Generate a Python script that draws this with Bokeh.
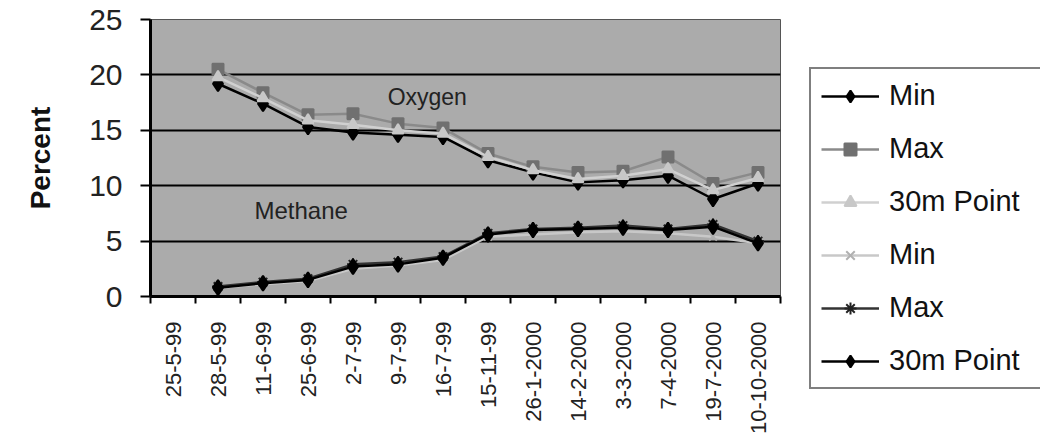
import math
from bokeh.plotting import figure
from bokeh.layouts import row
from bokeh.models import Range1d, FixedTicker, Legend, LegendItem
from bokeh.core.properties import value
from bokeh.embed import file_html
from bokeh.resources import INLINE

nan = float("nan")
dates = ["25-5-99", "28-5-99", "11-6-99", "25-6-99", "2-7-99", "9-7-99", "16-7-99",
         "15-11-99", "26-1-2000", "14-2-2000", "3-3-2000", "7-4-2000", "19-7-2000", "10-10-2000"]
oxy_min = [nan, 19.2, 17.4, 15.3, 14.8, 14.6, 14.4, 12.3, 11.2, 10.3, 10.5, 10.9, 8.8, 10.2]
oxy_max = [nan, 20.5, 18.4, 16.4, 16.5, 15.6, 15.2, 12.9, 11.7, 11.2, 11.3, 12.6, 10.2, 11.2]
oxy_30m = [nan, 19.8, 17.9, 15.9, 15.5, 15.0, 14.7, 12.6, 11.4, 10.6, 10.9, 11.5, 9.6, 10.7]
meth_min = [nan, 0.8, 1.1, 1.4, 2.5, 2.8, 3.3, 5.4, 5.6, 5.8, 5.9, 5.7, 5.4, 4.8]
meth_max = [nan, 0.9, 1.3, 1.6, 2.9, 3.1, 3.6, 5.7, 6.1, 6.2, 6.4, 6.1, 6.5, 5.0]
meth_30m = [nan, 0.8, 1.2, 1.5, 2.7, 2.9, 3.5, 5.6, 6.0, 6.1, 6.2, 6.0, 6.3, 4.8]
y_ticks = [0, 5, 10, 15, 20, 25]

xs = list(range(len(dates)))
FONT = "Liberation Sans"

p = figure(width=808, height=437, output_backend="svg", toolbar_location=None,
           x_range=Range1d(-0.5, len(dates) - 0.5), y_range=Range1d(0, 25),
           min_border_left=150, min_border_right=28, min_border_top=19, min_border_bottom=135)
p.background_fill_color = "#ababab"
p.border_fill_color = "white"
p.outline_line_color = "#555555"
p.outline_line_width = 1

p.xgrid.grid_line_color = None
p.ygrid.grid_line_color = "black"
p.ygrid.grid_line_width = 2
p.ygrid.ticker = FixedTicker(ticks=y_ticks)

# y axis
p.yaxis.ticker = FixedTicker(ticks=y_ticks)
p.yaxis.axis_line_color = "black"
p.yaxis.axis_line_width = 3
p.yaxis.major_tick_out = 10
p.yaxis.major_tick_in = 0
p.yaxis.major_tick_line_width = 2
p.yaxis.minor_tick_line_color = None
p.yaxis.major_label_standoff = 18
p.yaxis.major_label_text_font = FONT
p.yaxis.major_label_text_font_size = "30px"
p.yaxis.major_label_text_color = "#222222"
p.yaxis.axis_label = "Percent"
p.yaxis.axis_label_text_font = FONT
p.yaxis.axis_label_text_font_size = "28px"
p.yaxis.axis_label_text_font_style = "bold"
p.yaxis.axis_label_text_color = "#111111"
p.yaxis.axis_label_standoff = 30

# x axis: labels at category centres, ticks at category boundaries
p.xaxis.ticker = FixedTicker(ticks=xs, minor_ticks=[i - 0.5 for i in range(len(dates) + 1)])
p.xaxis.major_label_overrides = {i: d for i, d in enumerate(dates)}
p.xaxis.major_label_orientation = math.pi / 2
p.xaxis.major_tick_out = 0
p.xaxis.major_tick_in = 0
p.xaxis.major_tick_line_color = None
p.xaxis.minor_tick_out = 7
p.xaxis.minor_tick_in = 0
p.xaxis.minor_tick_line_color = "black"
p.xaxis.minor_tick_line_width = 2
p.xaxis.axis_line_color = "black"
p.xaxis.axis_line_width = 3
p.xaxis.major_label_standoff = 18
p.xaxis.major_label_text_font = FONT
p.xaxis.major_label_text_font_size = "22px"
p.xaxis.major_label_text_color = "#222222"

series = [
    ("Min", oxy_min, "black", "diamond", "black", 15),
    ("Max", oxy_max, "#8a8a8a", "square", "#707070", 11),
    ("30m Point", oxy_30m, "#d0d0d0", "triangle", "#c8c8c8", 11),
    ("Min", meth_min, "#c8c8c8", "x", "#b0b0b0", 11),
    ("Max", meth_max, "#333333", "asterisk", "#222222", 12),
    ("30m Point", meth_30m, "black", "diamond", "black", 15),
]

# separate panel that only carries the legend
q = figure(width=232, height=437, output_backend="svg", toolbar_location=None,
           x_range=Range1d(-0.5, len(dates) - 0.5), y_range=Range1d(0, 25),
           x_axis_location=None, y_axis_location=None,
           min_border_left=0, min_border_right=0, min_border_top=0, min_border_bottom=0)
q.frame_align = False
q.grid.visible = False
q.outline_line_color = None
q.background_fill_color = "white"
q.border_fill_color = "white"

items = []
for label, vals, lcol, marker, mcol, msize in series:
    p.line(xs, vals, line_color=lcol, line_width=2.5)
    p.scatter(xs, vals, marker=marker, size=msize, fill_color=mcol, line_color=mcol, line_width=2)
    lr = q.line(xs, vals, line_color=lcol, line_width=2.5, visible=False)
    sr = q.scatter(xs, vals, marker=marker, size=msize, fill_color=mcol, line_color=mcol,
                   line_width=2, visible=False)
    items.append(LegendItem(label=label, renderers=[lr, sr]))

p.text(x=[4.77], y=[18.0], text=["Oxygen"], text_font=value(FONT), text_font_size="23px",
       text_color="#222222", text_baseline="middle", text_align="left")
p.text(x=[1.81], y=[7.8], text=["Methane"], text_font=value(FONT), text_font_size="24px",
       text_color="#222222", text_baseline="middle", text_align="left")

legend = Legend(items=items, location=(1, 48), orientation="vertical")
legend.label_text_font = FONT
legend.label_text_font_size = "29px"
legend.label_text_color = "#111111"
legend.label_width = 150
legend.glyph_width = 58
legend.glyph_height = 30
legend.label_height = 30
legend.spacing = 20
legend.padding = 10
legend.label_standoff = 10
legend.border_line_color = "black"
legend.border_line_width = 2
legend.background_fill_color = "white"
legend.background_fill_alpha = 1
legend.margin = 0
q.add_layout(legend, "center")

layout = row(p, q, spacing=0)
open("out.html", "w").write(file_html(layout, INLINE))
